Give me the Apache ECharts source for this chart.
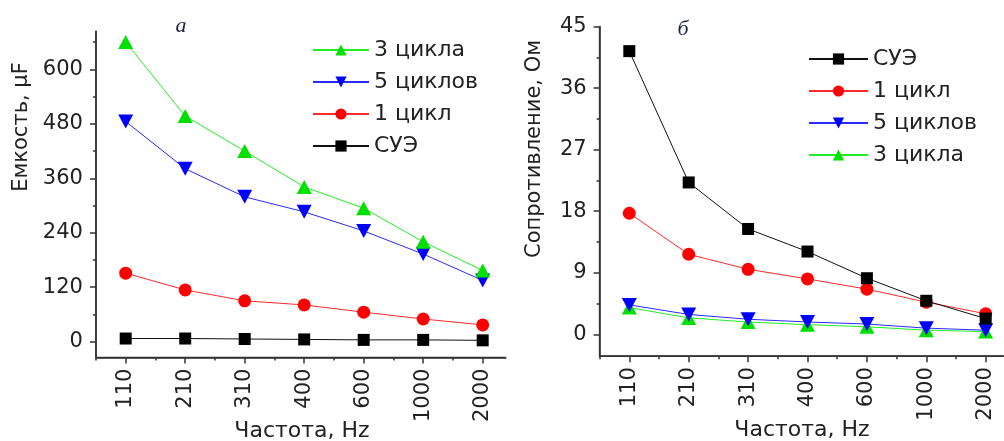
<!DOCTYPE html>
<html><head><meta charset="utf-8">
<script src="https://cdn.jsdelivr.net/npm/echarts@6/dist/echarts.min.js"></script>
<style>html,body{margin:0;padding:0;background:#fff}#c{width:1004px;height:441px}</style>
</head><body><div id="c"></div>
<script>
// ---------- data ----------
const categories = ['110', '210', '310', '400', '600', '1000', '2000'];

// panel а : capacitance, µF
const capTicks = [0, 120, 240, 360, 480, 600];
const cap3 = [660, 497, 420, 341, 294, 220, 157];
const cap5 = [485, 381, 319, 286, 244, 193, 135];
const cap1 = [151, 114, 90, 81, 65, 50, 37];
const capSue = [7, 7, 6, 5, 4, 4, 3];

// panel б : resistance, Ом
const resTicks = [0, 9, 18, 27, 36, 45];
const resSue = [41.4, 22.2, 15.4, 12.1, 8.2, 4.9, 2.3];
const res1 = [17.7, 11.7, 9.5, 8.1, 6.6, 4.7, 3.0];
const res5 = [4.3, 2.9, 2.2, 1.8, 1.5, 0.9, 0.6];
const res3 = [3.9, 2.4, 1.8, 1.4, 1.1, 0.6, 0.4];

// ---------- styles ----------
const FONT = 'DejaVu Sans';
const TXT = '#222';
const AXC = '#333';
const STY = {
  '3 цикла':  {color: '#00e000', line: '#22ee22', symbol: 'triangle', size: [15, 14], rot: 0},
  '5 циклов': {color: '#0000ff', line: '#2a2aff', symbol: 'triangle', size: [15, 14], rot: 180},
  '1 цикл':   {color: '#ff0000', line: '#ff2a2a', symbol: 'circle', size: 13, rot: 0},
  'СУЭ':      {color: '#000000', line: '#111111', symbol: 'rect', size: 12, rot: 0}
};

const option = {animation: false, backgroundColor: '#fff',
  grid: [], xAxis: [], yAxis: [], series: [], legend: [], graphic: []};

const noLine = () => ({show: false, onZero: false});
const tick = len => ({show: true, length: len, lineStyle: {color: AXC, width: 1.5}});

function addPanel(P) {
  const n = categories.length;
  const g = option.grid.length;
  const xa = option.xAxis.length;
  const ya = option.yAxis.length;
  const dataLeft = P.X0 + P.DX * P.xmin;
  const dataTop = P.Y0 - P.KY * P.ymax;
  const dataBottom = P.Y0 - P.KY * P.ymin;
  const dataRight = P.X0 + P.DX * P.xmax;
  const step = P.ticks[1] - P.ticks[0];
  const yMajMax = P.ticks[P.ticks.length - 1];
  const minorStep = step / 2;
  const yMinMax = Math.floor(P.ymax / minorStep + 1e-9) * minorStep;
  const offX = dataBottom - P.Y0;
  option.grid.push(
    {left: dataLeft, top: dataTop, width: dataRight - dataLeft, height: dataBottom - dataTop},
    {left: P.X0, top: P.Y0 - P.KY * yMajMax, width: P.DX * (n - 1), height: P.KY * yMajMax},
    {left: P.X0 - 0.5 * P.DX, top: P.Y0 - P.KY * yMinMax, width: P.DX * (n - 0.5), height: P.KY * yMinMax}
  );
  // data axes
  option.xAxis.push({type: 'value', gridIndex: g, min: P.xmin, max: P.xmax,
    axisLine: {show: true, onZero: false, lineStyle: {color: AXC, width: 1.5}},
    axisTick: {show: false}, axisLabel: {show: false}, splitLine: {show: false}});
  option.yAxis.push({type: 'value', gridIndex: g, min: P.ymin, max: P.ymax,
    axisLine: {show: true, onZero: false, lineStyle: {color: AXC, width: 1.5}},
    axisTick: {show: false}, axisLabel: {show: false}, splitLine: {show: false}});
  // major ticks + labels
  option.xAxis.push({type: 'value', gridIndex: g + 1, min: 0, max: n - 1, interval: 1, offset: offX,
    axisLine: noLine(), axisTick: tick(6),
    axisLabel: {show: true, rotate: 90, margin: 11, fontFamily: FONT, fontSize: 21, color: TXT,
      formatter: v => categories[Math.round(v)]},
    splitLine: {show: false}});
  option.yAxis.push({type: 'value', gridIndex: g + 1, min: 0, max: yMajMax, interval: step,
    offset: P.X0 - dataLeft, axisLine: noLine(), axisTick: tick(6),
    axisLabel: {show: true, margin: 13, fontFamily: FONT, fontSize: 21, color: TXT, formatter: v => String(v)},
    splitLine: {show: false}});
  // minor ticks
  option.xAxis.push({type: 'value', gridIndex: g + 2, min: -0.5, max: n - 1, interval: 0.5, offset: offX,
    axisLine: noLine(), axisTick: tick(3), axisLabel: {show: false}, splitLine: {show: false}});
  option.yAxis.push({type: 'value', gridIndex: g + 2, min: 0, max: yMinMax, interval: minorStep,
    offset: (P.X0 - 0.5 * P.DX) - dataLeft, axisLine: noLine(), axisTick: tick(3),
    axisLabel: {show: false}, splitLine: {show: false}});
  // series
  P.series.forEach(([name, vals]) => {
    const s = STY[name];
    option.series.push({type: 'line', name: name, xAxisIndex: xa, yAxisIndex: ya,
      data: vals.map((v, i) => [i, v]),
      symbol: s.symbol, symbolSize: s.size, symbolRotate: s.rot,
      lineStyle: {color: s.line, width: 1}, itemStyle: {color: s.color},
      emphasis: {disabled: true}});
  });
  option.legend.push({data: P.legend, orient: 'vertical', left: P.legLeft, top: P.legTop,
    itemWidth: P.legW, itemHeight: 14, itemGap: 0, padding: 0, selectedMode: false,
    textStyle: {fontFamily: FONT, fontSize: 22, lineHeight: 32, color: TXT}});
  option.graphic.push(
    {type: 'text', x: P.yTitle[0], y: P.yTitle[1], rotation: Math.PI / 2,
      style: {text: P.yName, fontFamily: FONT, fontSize: 21, fill: TXT, align: 'center', verticalAlign: 'middle'}},
    {type: 'text', x: P.xTitle[0], y: P.xTitle[1],
      style: {text: 'Частота, Hz', fontFamily: FONT, fontSize: 22, fill: TXT, align: 'center', verticalAlign: 'middle'}},
    {type: 'text', x: P.tag[0], y: P.tag[1],
      style: {text: P.tagText, fontFamily: 'Liberation Serif', fontStyle: 'italic', fontSize: 22, fill: '#1c2444', align: 'center', verticalAlign: 'middle'}},
    // axis frame (left + bottom) along the data grid edges
    {type: 'polyline', silent: true, z: 50,
      shape: {points: [[dataLeft, dataTop], [dataLeft, dataBottom], [dataRight, dataBottom]]},
      style: {stroke: AXC, lineWidth: 1.5}}
  );
}

addPanel({X0: 125.7, DX: 59.5, xmin: -0.5, xmax: 6.39, Y0: 341.7, KY: 0.454, ymin: -35, ymax: 684,
  ticks: capTicks,
  series: [['СУЭ', capSue], ['1 цикл', cap1], ['5 циклов', cap5], ['3 цикла', cap3]],
  legend: ['3 цикла', '5 циклов', '1 цикл', 'СУЭ'], legLeft: 312, legTop: 34, legW: 56,
  yName: 'Емкость, µF', yTitle: [22, 127], xTitle: [302, 431], tag: [181, 26], tagText: 'а'});

addPanel({X0: 629.3, DX: 59.4, xmin: -0.5, xmax: 6.3, Y0: 334.3, KY: 6.84, ymin: -3.2, ymax: 45,
  ticks: resTicks,
  series: [['3 цикла', res3], ['5 циклов', res5], ['1 цикл', res1], ['СУЭ', resSue]],
  legend: ['СУЭ', '1 цикл', '5 циклов', '3 цикла'], legLeft: 808, legTop: 43, legW: 59,
  yName: 'Сопротивление, Ом', yTitle: [535, 149], xTitle: [802, 430], tag: [683, 29], tagText: 'б'});

const chart = echarts.init(document.getElementById('c'), null, {renderer: 'canvas'});
chart.setOption(option);
</script></body></html>
